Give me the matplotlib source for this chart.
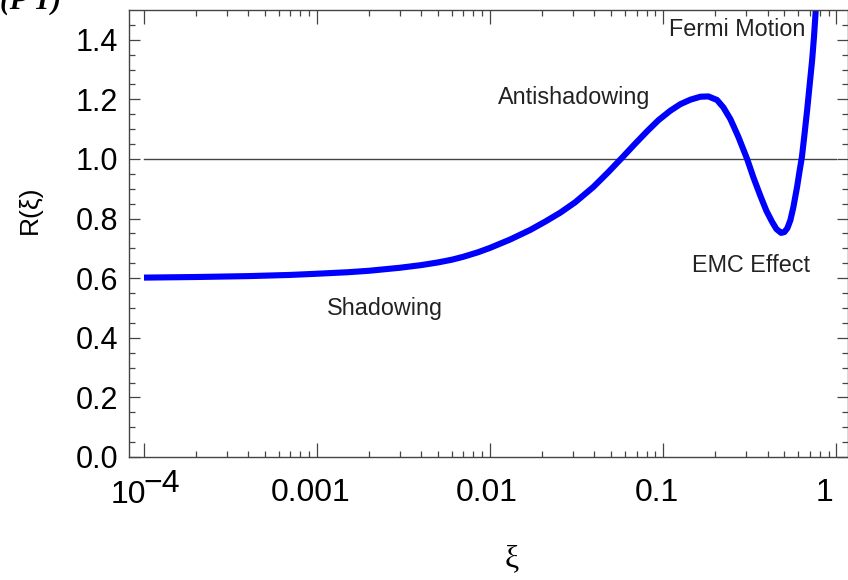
import numpy as np
import matplotlib
matplotlib.use("Agg")
import matplotlib.pyplot as plt
from matplotlib.ticker import FixedLocator, NullFormatter
from matplotlib.transforms import offset_copy

plt.rcParams['font.family'] = ['Liberation Sans', 'DejaVu Sans']

# nuclear modification ratio R(xi)
xi = [1e-4, 2e-4, 4e-4, 7e-4, 1e-3, 1.5e-3, 2e-3, 3e-3, 4e-3, 5e-3, 6e-3, 7e-3,
      8.5e-3, 0.01, 0.01305, 0.01703, 0.0208, 0.0254, 0.0310, 0.0394, 0.0481,
      0.0579, 0.0689, 0.0809, 0.0936, 0.1097, 0.1254, 0.1432, 0.1637, 0.1820,
      0.2043, 0.2223, 0.2439, 0.2714, 0.3048, 0.3314, 0.3637, 0.3939, 0.4249,
      0.4499, 0.4790, 0.5004, 0.5208, 0.5420, 0.5641, 0.5926, 0.6109, 0.6317,
      0.6532, 0.6771, 0.6982, 0.7237, 0.7413, 0.7561, 0.7768]
R = [0.602, 0.604, 0.607, 0.611, 0.615, 0.620, 0.625, 0.635, 0.644, 0.653, 0.662, 0.672,
     0.687, 0.702, 0.730, 0.762, 0.790, 0.820, 0.855, 0.906, 0.956,
     1.005, 1.052, 1.094, 1.130, 1.162, 1.184, 1.199, 1.209, 1.210,
     1.198, 1.173, 1.134, 1.074, 1.000, 0.938, 0.876, 0.826, 0.789,
     0.765, 0.752, 0.755, 0.768, 0.795, 0.839, 0.907, 0.956, 1.007,
     1.081, 1.164, 1.242, 1.332, 1.408, 1.483, 1.601]

# region labels and where they sit (xi, R)
region_names = ["Shadowing", "Antishadowing", "EMC Effect", "Fermi Motion"]
region_xi = [0.00247, 0.0306, 0.323, 0.268]
region_R = [0.497, 1.208, 0.641, 1.436]

xticks = [1e-4, 1e-3, 1e-2, 1e-1, 1]
xticklabels = ["", "0.001", "0.01", "0.1", "1"]
xlabel_shift = [0, -6, -3.5, -6, -12]   # px, label nudges
yticks = [0.0, 0.2, 0.4, 0.6, 0.8, 1.0, 1.2, 1.4]

fig = plt.figure(figsize=(8.48, 5.80), dpi=100)
ax = fig.add_axes([129/848, 1-457/580, 719/848, 447/580])

ax.plot([1e-4, 1], [1.0, 1.0], color='#444444', lw=1.0)
ax.plot(xi, R, color='#0000ff', lw=4.4, solid_capstyle='butt', solid_joinstyle='round')

for name, px, py in zip(region_names, region_xi, region_R):
    ax.text(px, py, name, ha='center', va='center', fontsize=16.8, color='#222222')

ax.set_xscale('log')
ax.set_xlim(8.19e-5, 1.166)
ax.set_ylim(0, 1.5)

ax.xaxis.set_major_locator(FixedLocator(xticks))
ax.xaxis.set_major_formatter(NullFormatter())
minor = [m * 10.0**e for e in range(-4, 0) for m in range(2, 10)]
ax.xaxis.set_minor_locator(FixedLocator(minor))
ax.xaxis.set_minor_formatter(NullFormatter())
ax.yaxis.set_major_locator(FixedLocator(yticks))
ax.set_yticklabels(["%.1f" % v for v in yticks])
ax.yaxis.set_minor_locator(FixedLocator(np.arange(0.05, 1.5, 0.05)))

for s in ax.spines.values():
    s.set_color('#444444')
    s.set_linewidth(1.0)

ax.tick_params(which='both', direction='in', top=True, right=True,
               color='#444444', width=0.9)
ax.tick_params(which='major', length=8)
ax.tick_params(which='minor', length=4)
ax.tick_params(axis='x', which='major', length=10)
ax.tick_params(axis='y', which='major', pad=8, labelsize=22)

xtrans = ax.get_xaxis_transform()
for t, lab, dx in zip(xticks, xticklabels, xlabel_shift):
    if lab:
        ax.text(t, -0.047, lab, ha='center', va='top', fontsize=23,
                transform=offset_copy(xtrans, fig=fig, x=dx, units='dots'))

# 10^-4 label with a full-size exponent
ax.text(1e-4, -0.103, "10", ha='right', va='baseline', fontsize=23,
        transform=offset_copy(xtrans, fig=fig, x=2, units='dots'))
ax.text(1e-4, -0.0783, "\u22124", ha='left', va='baseline', fontsize=23,
        transform=offset_copy(xtrans, fig=fig, x=-1, units='dots'))

fig.text(30/848, 1-210/580, "R(\u03be)", rotation=90, ha='center', va='center',
         fontsize=19)
fig.text(512/848, 1-559/580, "\u03be", ha='center', va='center', fontsize=23,
         family=['Liberation Serif', 'DejaVu Serif'])
fig.text(0.0, 1-9/580, "(P T)", ha='left', va='baseline', fontsize=21,
         family=['Liberation Serif', 'DejaVu Serif'], style='italic',
         weight='bold')

fig.savefig("out.png", dpi=100)
